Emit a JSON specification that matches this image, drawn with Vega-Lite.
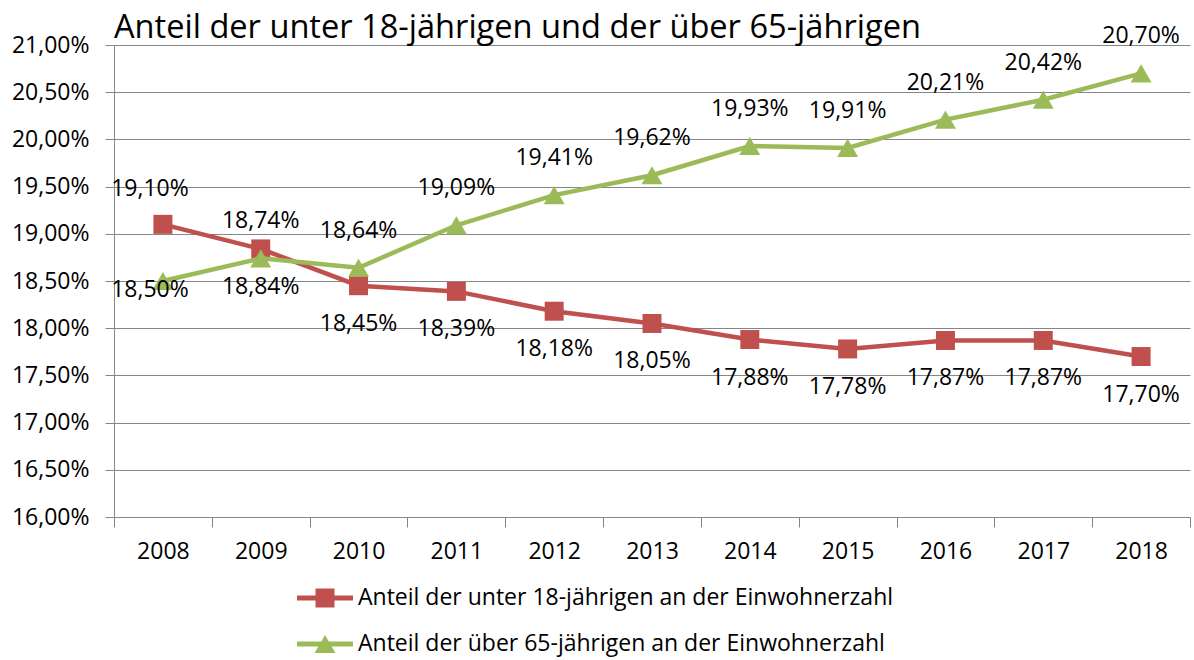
{
  "$schema": "https://vega.github.io/schema/vega-lite/v6.json",
  "width": 1076,
  "height": 472,
  "autosize": {"type": "none"},
  "padding": {"left": 114, "top": 45, "right": 4, "bottom": 143},
  "background": "white",
  "title": {"text": "Anteil der unter 18-jährigen und der über 65-jährigen", "anchor": "start", "frame": "group", "fontSize": 32.6, "font": "Open Sans", "fontWeight": "normal", "color": "black", "offset": -19},
  "data": {"values": [
    {"year": "2008", "series": "Anteil der unter 18-jährigen an der Einwohnerzahl", "v": 19.10},
    {"year": "2009", "series": "Anteil der unter 18-jährigen an der Einwohnerzahl", "v": 18.84},
    {"year": "2010", "series": "Anteil der unter 18-jährigen an der Einwohnerzahl", "v": 18.45},
    {"year": "2011", "series": "Anteil der unter 18-jährigen an der Einwohnerzahl", "v": 18.39},
    {"year": "2012", "series": "Anteil der unter 18-jährigen an der Einwohnerzahl", "v": 18.18},
    {"year": "2013", "series": "Anteil der unter 18-jährigen an der Einwohnerzahl", "v": 18.05},
    {"year": "2014", "series": "Anteil der unter 18-jährigen an der Einwohnerzahl", "v": 17.88},
    {"year": "2015", "series": "Anteil der unter 18-jährigen an der Einwohnerzahl", "v": 17.78},
    {"year": "2016", "series": "Anteil der unter 18-jährigen an der Einwohnerzahl", "v": 17.87},
    {"year": "2017", "series": "Anteil der unter 18-jährigen an der Einwohnerzahl", "v": 17.87},
    {"year": "2018", "series": "Anteil der unter 18-jährigen an der Einwohnerzahl", "v": 17.70},
    {"year": "2008", "series": "Anteil der über 65-jährigen an der Einwohnerzahl", "v": 18.50},
    {"year": "2009", "series": "Anteil der über 65-jährigen an der Einwohnerzahl", "v": 18.74},
    {"year": "2010", "series": "Anteil der über 65-jährigen an der Einwohnerzahl", "v": 18.64},
    {"year": "2011", "series": "Anteil der über 65-jährigen an der Einwohnerzahl", "v": 19.09},
    {"year": "2012", "series": "Anteil der über 65-jährigen an der Einwohnerzahl", "v": 19.41},
    {"year": "2013", "series": "Anteil der über 65-jährigen an der Einwohnerzahl", "v": 19.62},
    {"year": "2014", "series": "Anteil der über 65-jährigen an der Einwohnerzahl", "v": 19.93},
    {"year": "2015", "series": "Anteil der über 65-jährigen an der Einwohnerzahl", "v": 19.91},
    {"year": "2016", "series": "Anteil der über 65-jährigen an der Einwohnerzahl", "v": 20.21},
    {"year": "2017", "series": "Anteil der über 65-jährigen an der Einwohnerzahl", "v": 20.42},
    {"year": "2018", "series": "Anteil der über 65-jährigen an der Einwohnerzahl", "v": 20.70}
  ]},
  "transform": [
    {"calculate": "replace(format(datum.v, '.2f'), '.', ',') + '%'", "as": "lbl"}
  ],
  "encoding": {
    "x": {"field": "year", "type": "ordinal", "scale": {"type": "band", "paddingInner": 0, "paddingOuter": 0},
      "axis": {"title": null, "labelAngle": 0, "tickBand": "extent", "tickSize": 10, "tickColor": "#868686", "tickWidth": 1, "domainColor": "#868686", "domainWidth": 1, "labelFontSize": 23, "labelColor": "black", "labelPadding": 13, "grid": false}},
    "y": {"field": "v", "type": "quantitative", "scale": {"domain": [16, 21], "nice": false, "zero": false},
      "axis": {"title": null, "values": [16, 16.5, 17, 17.5, 18, 18.5, 19, 19.5, 20, 20.5, 21], "labelExpr": "replace(format(datum.value, '.2f'), '.', ',') + '%'", "tickSize": 9, "tickColor": "#868686", "tickWidth": 1, "domainColor": "#868686", "domainWidth": 1, "grid": true, "gridColor": "#868686", "gridWidth": 1, "labelFontSize": 23, "labelColor": "black", "labelPadding": 16}}
  },
  "layer": [
    {
      "transform": [{"filter": "datum.series == 'Anteil der unter 18-jährigen an der Einwohnerzahl'"}],
      "mark": {"type": "line", "strokeWidth": 4.5, "color": "#C0504D"}
    },
    {
      "transform": [{"filter": "datum.series == 'Anteil der unter 18-jährigen an der Einwohnerzahl'"}],
      "mark": {"type": "point", "shape": "square", "filled": true, "size": 360, "opacity": 1, "color": "#C0504D"}
    },
    {
      "transform": [{"filter": "datum.series == 'Anteil der über 65-jährigen an der Einwohnerzahl'"}],
      "mark": {"type": "line", "strokeWidth": 4.5, "color": "#9BBB59"}
    },
    {
      "transform": [{"filter": "datum.series == 'Anteil der über 65-jährigen an der Einwohnerzahl'"}],
      "mark": {"type": "point", "shape": "triangle-up", "filled": true, "size": 440, "opacity": 1, "color": "#9BBB59"}
    },
    {
      "transform": [{"filter": "datum.series == 'Anteil der unter 18-jährigen an der Einwohnerzahl' && datum.year != '2008'"}],
      "mark": {"type": "text", "fontSize": 23, "color": "black", "baseline": "middle", "dy": 38},
      "encoding": {"text": {"field": "lbl"}}
    },
    {
      "transform": [{"filter": "datum.series == 'Anteil der unter 18-jährigen an der Einwohnerzahl' && datum.year == '2008'"}],
      "mark": {"type": "text", "fontSize": 23, "color": "black", "baseline": "middle", "dy": -35, "dx": -13},
      "encoding": {"text": {"field": "lbl"}}
    },
    {
      "transform": [{"filter": "datum.series == 'Anteil der über 65-jährigen an der Einwohnerzahl' && datum.year != '2008'"}],
      "mark": {"type": "text", "fontSize": 23, "color": "black", "baseline": "middle", "dy": -37},
      "encoding": {"text": {"field": "lbl"}}
    },
    {
      "transform": [{"filter": "datum.series == 'Anteil der über 65-jährigen an der Einwohnerzahl' && datum.year == '2008'"}],
      "mark": {"type": "text", "fontSize": 23, "color": "black", "baseline": "middle", "dy": 9, "dx": -13},
      "encoding": {"text": {"field": "lbl"}}
    },
    {
      "mark": {"type": "point", "filled": true, "size": 0},
      "encoding": {
        "color": {"field": "series", "type": "nominal",
          "scale": {"domain": ["Anteil der unter 18-jährigen an der Einwohnerzahl", "Anteil der über 65-jährigen an der Einwohnerzahl"], "range": ["#C0504D", "#9BBB59"]},
          "legend": {"title": null, "orient": "none", "legendX": 191, "legendY": 533, "direction": "vertical", "symbolSize": 1600, "symbolOpacity": 1, "symbolStrokeWidth": 0, "labelFontSize": 23, "labelColor": "black", "labelOffset": 13, "rowPadding": 14, "padding": 0, "labelLimit": 0}},
        "shape": {"field": "series", "type": "nominal",
          "scale": {"domain": ["Anteil der unter 18-jährigen an der Einwohnerzahl", "Anteil der über 65-jährigen an der Einwohnerzahl"], "range": ["M-1.4,-0.125H1.4V0.125H-1.4ZM-0.475,-0.475H0.475V0.475H-0.475Z", "M-1.4,-0.125H1.4V0.125H-1.4ZM0,-0.45L0.525,0.45L-0.525,0.45Z"]},
          "legend": {"title": null, "orient": "none", "legendX": 191, "legendY": 533, "direction": "vertical", "symbolSize": 1600, "symbolOpacity": 1, "symbolStrokeWidth": 0, "labelFontSize": 23, "labelColor": "black", "labelOffset": 13, "rowPadding": 14, "padding": 0, "labelLimit": 0}}
      }
    }
  ],
  "config": {"font": "Open Sans", "view": {"stroke": null}}
}
